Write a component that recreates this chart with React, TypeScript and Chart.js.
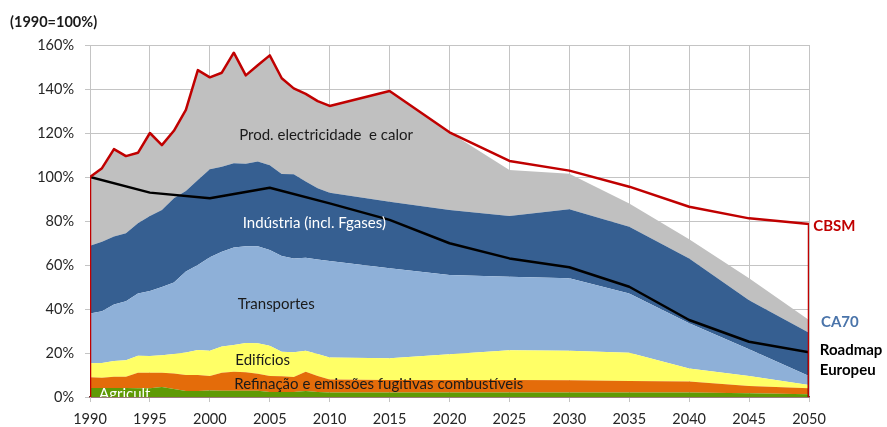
import React, { useEffect, useRef } from "react";
import { Chart, registerables } from "chart.js";

Chart.register(...registerables);

// ---- Data (percent of 1990 emissions) ----
const YEARS = [
  1990, 1991, 1992, 1993, 1994, 1995, 1996, 1997, 1998, 1999, 2000, 2001, 2002,
  2003, 2004, 2005, 2006, 2007, 2008, 2009, 2010, 2015, 2020, 2025, 2030, 2035,
  2040, 2045, 2050,
];

const AGRICULTURA = [
  4.1, 4.1, 4.1, 4.1, 4.0, 4.0, 4.5, 3.6, 2.7, 2.7, 3.0, 2.8, 2.8, 2.8, 2.8, 2.3,
  2.3, 2.3, 2.7, 2.3, 2.1, 2.0, 2.0, 2.0, 2.0, 2.0, 2.0, 1.7, 1.2,
];
const REFINACAO = [
  4.9, 4.7, 5.1, 5.1, 7.0, 7.0, 6.5, 7.1, 7.3, 7.3, 6.5, 8.2, 8.7, 8.4, 7.8, 7.2,
  7.1, 6.8, 8.8, 7.2, 5.9, 5.7, 5.7, 5.7, 5.6, 5.3, 5.0, 3.3, 2.8,
];
const EDIFICIOS = [
  6.3, 6.7, 7.2, 7.5, 7.8, 7.6, 8.0, 8.8, 10.2, 11.4, 11.5, 11.9, 12.1, 13.3,
  13.8, 13.8, 11.2, 11.2, 9.5, 10.0, 10.0, 9.9, 11.7, 13.5, 13.4, 12.8, 6.0, 4.5,
  1.5,
];
const TRANSPORTES = [
  22.7, 23.5, 25.6, 26.8, 28.2, 29.6, 31.0, 32.5, 36.8, 38.6, 42.5, 43.1, 44.3,
  44.0, 44.1, 43.5, 43.5, 42.7, 42.3, 43.0, 43.8, 40.9, 36.1, 33.5, 33.0, 27.0,
  20.5, 12.2, 4.0,
];
const INDUSTRIA = [
  30.8, 31.6, 30.9, 30.9, 32.0, 34.1, 35.0, 38.3, 36.6, 38.6, 40.0, 38.7, 38.3,
  37.5, 38.6, 38.5, 37.3, 38.2, 34.7, 32.4, 31.0, 30.3, 29.5, 27.6, 31.3, 30.3,
  29.5, 22.3, 19.7,
];
const ELECTRICIDADE = [
  31.2, 33.4, 39.8, 35.1, 32.0, 37.7, 29.5, 30.7, 36.9, 50.0, 41.8, 42.7, 50.3,
  40.2, 43.7, 50.0, 43.5, 39.1, 39.8, 39.6, 39.5, 50.3, 35.3, 20.9, 16.2, 10.6,
  8.7, 10.0, 5.8,
];

const CBSM_YEARS = [
  1990, 1990, 1991, 1992, 1993, 1994, 1995, 1996, 1997, 1998, 1999, 2000, 2001,
  2002, 2003, 2004, 2005, 2006, 2007, 2008, 2009, 2010, 2015, 2020, 2025, 2030,
  2035, 2040, 2045, 2050, 2050,
];
const CBSM = [
  0, 100, 104, 112.7, 109.5, 111, 120, 114.5, 121, 130.5, 148.6, 145.3, 147.4,
  156.5, 146.2, 150.8, 155.3, 144.9, 140.3, 137.8, 134.5, 132.3, 139.1, 120.3,
  107.3, 102.9, 95.6, 86.5, 81.2, 78.6, 0,
];

const ROADMAP_YEARS = [
  1990, 1995, 2000, 2005, 2010, 2015, 2020, 2025, 2030, 2035, 2040, 2045, 2050,
  2050,
];
const ROADMAP = [
  100, 92.9, 90.3, 95.1, 88, 80.5, 69.9, 63, 59, 50.1, 35, 25.1, 20.3, 0,
];

const X_TICKS = { min: 1990, max: 2050, step: 5 };
const Y_TICKS = { min: 0, max: 160, step: 20 };

const FONT = "Lato, 'Open Sans', sans-serif";

type Ann = {
  text: string;
  x: number;
  y: number;
  color: string;
  bold?: boolean;
  size: number;
  clip?: boolean;
};

const IN_PLOT_LABELS: Ann[] = [
  { text: "Prod. electricidade  e calor", x: 2002.45, y: 119.1, color: "#1a1a1a", size: 15 },
  { text: "Indústria (incl. Fgases)", x: 2002.75, y: 79.0, color: "#ffffff", size: 15 },
  { text: "Transportes", x: 2002.33, y: 42.3, color: "#1a1a1a", size: 15 },
  { text: "Edifícios", x: 2002.13, y: 16.8, color: "#1a1a1a", size: 15 },
  { text: "Refinação e emissões fugitivas combustíveis", x: 2002.04, y: 5.9, color: "#1a1a1a", size: 15 },
  { text: "Agricult..", x: 1990.75, y: 1.4, color: "#ffffff", size: 15, clip: true },
];

const SIDE_LABELS: Ann[] = [
  { text: "CBSM", x: 2050.36, y: 77.7, color: "#c00000", bold: true, size: 15 },
  { text: "CA70", x: 2051.0, y: 34.0, color: "#4a74aa", bold: true, size: 15 },
  { text: "Roadmap", x: 2050.9, y: 21.4, color: "#000000", bold: true, size: 15 },
  { text: "Europeu", x: 2050.9, y: 12.3, color: "#000000", bold: true, size: 15 },
];

const labelsPlugin = {
  id: "annotLabels",
  afterDatasetsDraw(chart: any) {
    const { ctx, chartArea, scales } = chart;
    const xs = scales.x;
    const ys = scales.y;
    ctx.save();
    ctx.textBaseline = "middle";
    ctx.textAlign = "left";
    for (const a of IN_PLOT_LABELS) {
      ctx.save();
      if (a.clip) {
        ctx.beginPath();
        ctx.rect(chartArea.left, chartArea.top, chartArea.right - chartArea.left, chartArea.bottom - chartArea.top);
        ctx.clip();
      }
      ctx.font = `${a.bold ? "bold " : ""}${a.size}px ${FONT}`;
      ctx.fillStyle = a.color;
      ctx.fillText(a.text, xs.getPixelForValue(a.x), ys.getPixelForValue(a.y));
      ctx.restore();
    }
    ctx.restore();
  },
  afterDraw(chart: any) {
    const { ctx, scales } = chart;
    const xs = scales.x;
    const ys = scales.y;
    ctx.save();
    ctx.textBaseline = "middle";
    ctx.textAlign = "left";
    for (const a of SIDE_LABELS) {
      ctx.font = `${a.bold ? "bold " : ""}${a.size}px ${FONT}`;
      ctx.fillStyle = a.color;
      ctx.fillText(a.text, xs.getPixelForValue(a.x), ys.getPixelForValue(a.y));
    }
    ctx.font = `bold 14.5px ${FONT}`;
    ctx.fillStyle = "#1a1a1a";
    ctx.fillText("(1990=100%)", 10, 22);
    ctx.restore();
  },
};

export default function App() {
  const ref = useRef<HTMLCanvasElement>(null);

  useEffect(() => {
    const canvas = ref.current;
    if (!canvas) return;

    const pts = (xsArr: number[], vals: number[]) =>
      xsArr.map((x, i) => ({ x, y: vals[i] }));

    const area = (label: string, vals: number[], color: string, first: boolean) => ({
      type: "line",
      label,
      data: pts(YEARS, vals),
      backgroundColor: color,
      borderColor: color,
      borderWidth: 0,
      pointRadius: 0,
      fill: first ? "origin" : "-1",
      stack: "sectors",
      order: 3,
      tension: 0,
    });

    const chart = new Chart(canvas, {
      type: "line",
      data: {
        datasets: [
          area("Agricultura", AGRICULTURA, "#5f9a05", true),
          area("Refinação", REFINACAO, "#e46c0a", false),
          area("Edifícios", EDIFICIOS, "#ffff66", false),
          area("Transportes", TRANSPORTES, "#8eb0d8", false),
          area("Indústria", INDUSTRIA, "#365f91", false),
          area("Prod. electricidade", ELECTRICIDADE, "#c0c0c0", false),
          {
            type: "line",
            label: "Roadmap Europeu",
            data: pts(ROADMAP_YEARS, ROADMAP),
            borderColor: "#000000",
            borderWidth: 2.5,
            pointRadius: 0,
            fill: false,
            stack: "roadmap",
            order: 1,
            tension: 0,
          },
          {
            type: "line",
            label: "CBSM",
            data: pts(CBSM_YEARS, CBSM),
            borderColor: "#c00000",
            borderWidth: 2.5,
            pointRadius: 0,
            fill: false,
            stack: "cbsm",
            order: 0,
            tension: 0,
          },
        ] as any,
      },
      options: {
        responsive: false,
        animation: false,
        devicePixelRatio: 1,
        layout: { padding: { left: 0, right: 78, top: 45, bottom: 0 } },
        plugins: {
          legend: { display: false },
          tooltip: { enabled: false },
          title: { display: false },
        },
        elements: { line: { borderJoinStyle: "round" } },
        scales: {
          x: {
            type: "linear",
            min: X_TICKS.min,
            max: X_TICKS.max,
            ticks: {
              stepSize: X_TICKS.step,
              color: "#262626",
              font: { family: FONT, size: 14.5 },
              padding: 9,
              maxRotation: 0,
              callback: (v: any) => String(v),
            },
            grid: { color: "#c4c4c4", lineWidth: 1, tickLength: 5 },
            border: { color: "#6e2e2e", width: 1.5 },
            afterFit: (axis: any) => {
              axis.height = 30;
            },
          },
          y: {
            type: "linear",
            stacked: true,
            min: Y_TICKS.min,
            max: Y_TICKS.max,
            ticks: {
              stepSize: Y_TICKS.step,
              color: "#262626",
              font: { family: FONT, size: 14.5 },
              padding: 11,
              callback: (v: any) => `${v}%`,
            },
            grid: { color: "#c4c4c4", lineWidth: 1, tickLength: 5 },
            border: { color: "#c4c4c4", width: 1 },
            afterFit: (axis: any) => {
              axis.width = 90;
            },
          },
        },
      } as any,
      plugins: [labelsPlugin],
    });

    return () => chart.destroy();
  }, []);

  return (
    <div style={{ position: "absolute", left: 0, top: 0, width: 887, height: 427, background: "#ffffff" }}>
      <canvas ref={ref} width={887} height={427} style={{ display: "block" }} />
    </div>
  );
}
